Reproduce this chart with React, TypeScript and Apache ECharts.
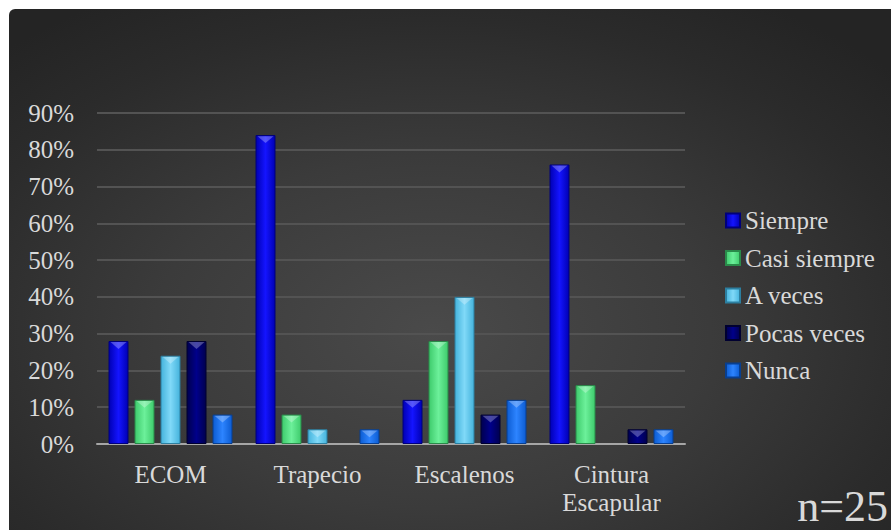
import React, { useEffect, useRef } from "react";
import * as echarts from "echarts";

const categories = ["ECOM", "Trapecio", "Escalenos", "Cintura\nEscapular"];
const seriesNames = ["Siempre", "Casi siempre", "A veces", "Pocas veces", "Nunca"];

// Porcentaje de respuestas por zona (n = 25)
const siempre = [28, 84, 12, 76];
const casiSiempre = [12, 8, 28, 16];
const aVeces = [24, 4, 40, 0];
const pocasVeces = [28, 0, 8, 4];
const nunca = [8, 4, 12, 4];

const yTicks = { min: 0, max: 90, interval: 10 };
const sampleNote = "n=25";

// [edge, centre, border] per series
const palette: [string, string, string][] = [
  ["#0000b4", "#1414ff", "#00007a"],
  ["#3ecb6c", "#6cf09a", "#2a8a4a"],
  ["#45b3dc", "#80d9f8", "#2c7fa0"],
  ["#00004e", "#00008a", "#000030"],
  ["#0c5cd2", "#2d84ff", "#083f90"],
];

const FONT = "'Liberation Serif', 'Times New Roman', serif";
const TEXT = "#d9d9d9";

export default function App() {
  const ref = useRef<HTMLDivElement>(null);

  useEffect(() => {
    if (!ref.current) return;
    const chart = echarts.init(ref.current, undefined, { renderer: "svg" });
    const values = [siempre, casiSiempre, aVeces, pocasVeces, nunca];

    const barSeries = values.map((data, i) => ({
      name: seriesNames[i],
      type: "bar",
      data: data.map((v) => (v === 0 ? null : v)),
      barWidth: 20,
      barGap: "30%",
      itemStyle: {
        color: new echarts.graphic.LinearGradient(0, 0, 1, 0, [
          { offset: 0, color: palette[i][0] },
          { offset: 0.5, color: palette[i][1] },
          { offset: 1, color: palette[i][0] },
        ]),
        borderColor: palette[i][2],
        borderWidth: 1,
      },
    }));

    // bevelled cap on top of each bar
    const capSeries = values.map((data, i) => ({
      name: seriesNames[i],
      type: "pictorialBar",
      data: data.map((v) => (v === 0 ? null : v)),
      barWidth: 20,
      barGap: "30%",
      symbol: "triangle",
      symbolRotate: 180,
      symbolSize: [16, 7],
      symbolPosition: "end",
      symbolOffset: [0, 1],
      z: 3,
      itemStyle: { color: "rgba(255,255,255,0.28)" },
      silent: true,
    }));

    chart.setOption({
      animation: false,
      backgroundColor: "transparent",
      textStyle: { fontFamily: FONT },
      grid: { left: 88, right: 206, top: 104, bottom: 86 },
      legend: {
        data: seriesNames,
        orient: "vertical",
        left: 716,
        top: 199,
        padding: 0,
        itemWidth: 14,
        itemHeight: 14,
        itemGap: 12.5,
        icon: "rect",
        textStyle: {
          color: TEXT,
          fontSize: 25,
          lineHeight: 25,
          fontFamily: FONT,
        },
      },
      xAxis: {
        type: "category",
        data: categories,
        axisLine: { lineStyle: { color: "#a6a6a6", width: 2 } },
        axisTick: { show: false },
        axisLabel: {
          color: TEXT,
          fontSize: 25,
          lineHeight: 28,
          margin: 16,
          fontFamily: FONT,
        },
      },
      yAxis: {
        type: "value",
        min: yTicks.min,
        max: yTicks.max,
        interval: yTicks.interval,
        axisLine: { show: false },
        axisTick: { show: false },
        axisLabel: {
          color: TEXT,
          fontSize: 25,
          margin: 23,
          fontFamily: FONT,
          formatter: "{value}%",
        },
        splitLine: { lineStyle: { color: "#535353", width: 2 } },
      },
      graphic: [
        {
          type: "text",
          x: 879,
          y: 497,
          style: {
            text: sampleNote,
            fill: TEXT,
            font: `44px ${FONT}`,
            align: "right",
            verticalAlign: "middle",
          },
        },
      ],
      series: [...barSeries, ...capSeries],
    });

    return () => chart.dispose();
  }, []);

  return (
    <div
      style={{
        position: "absolute",
        left: 9,
        top: 9,
        width: 882,
        height: 521,
        borderTopLeftRadius: 6,
        background:
          "radial-gradient(ellipse 70% 75% at 48% 62%, #4a4a4a 0%, #3b3b3b 45%, #2b2b2b 80%, #242424 100%)",
      }}
    >
      <div ref={ref} style={{ width: 882, height: 521 }} />
    </div>
  );
}
